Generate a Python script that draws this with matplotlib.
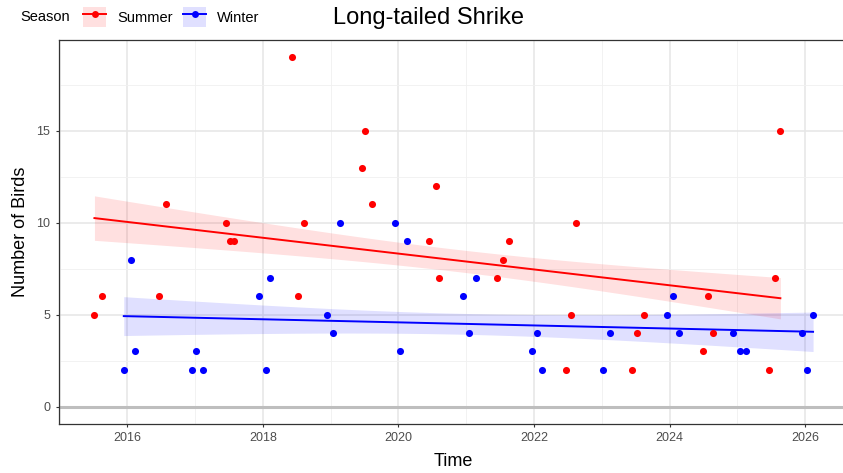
import numpy as np
import pandas as pd
import matplotlib
matplotlib.use('Agg')
import matplotlib.pyplot as plt
from matplotlib.patches import Patch
from matplotlib.lines import Line2D
from matplotlib.ticker import MultipleLocator

plt.rcParams['font.family'] = ['Liberation Sans', 'DejaVu Sans']

# Survey dates and counts
summer_dates = ['2015-07-08', '2015-08-16', '2016-06-18', '2016-07-29', '2017-06-17',
                '2017-07-06', '2017-07-31', '2018-06-08', '2018-07-07', '2018-08-12',
                '2019-06-18', '2019-07-07', '2019-08-12', '2020-06-16', '2020-07-20',
                '2020-08-07', '2021-06-14', '2021-07-20', '2021-08-18', '2022-06-20',
                '2022-07-19', '2022-08-15', '2023-06-12', '2023-07-10', '2023-08-14',
                '2024-06-28', '2024-07-27', '2024-08-22', '2025-06-19', '2025-07-21',
                '2025-08-21']
summer_counts = [5, 6, 6, 11, 10, 9, 9, 19, 6, 10, 13, 15, 11, 9, 12, 7, 7, 8, 9,
                 2, 5, 10, 2, 4, 5, 3, 6, 4, 2, 7, 15]

winter_dates = ['2015-12-13', '2016-01-22', '2016-02-14', '2016-12-16', '2017-01-08',
                '2017-02-13', '2017-12-12', '2018-01-16', '2018-02-07', '2018-12-14',
                '2019-01-15', '2019-02-18', '2019-12-14', '2020-01-10', '2020-02-19',
                '2020-12-16', '2021-01-18', '2021-02-22', '2021-12-21', '2022-01-19',
                '2022-02-14', '2023-01-09', '2023-02-14', '2023-12-17', '2024-01-21',
                '2024-02-21', '2024-12-09', '2025-01-16', '2025-02-19', '2025-12-15',
                '2026-01-14', '2026-02-13']
winter_counts = [2, 8, 3, 2, 3, 2, 6, 2, 7, 5, 4, 10, 10, 3, 9, 6, 4, 7, 3, 4, 2,
                 2, 4, 5, 6, 4, 4, 3, 3, 4, 2, 5]

season_names = ['Summer', 'Winter']
season_colors = ['red', 'blue']
# how many standard errors the shaded band spans (matched to the picture)
band_mult = [0.85, 1.35]


def decimal_year(dates):
    d = pd.to_datetime(pd.Series(dates))
    start = pd.to_datetime(d.dt.year.astype(str) + '-01-01')
    ylen = np.where(d.dt.is_leap_year, 366, 365)
    return (d.dt.year + (d - start).dt.days / ylen).to_numpy()


def lm_band(x, y, t):
    # linear fit with a standard-error band (like geom_smooth(method='lm'))
    b, a = np.polyfit(x, y, 1)
    xs = np.linspace(x.min(), x.max(), 80)
    fit = a + b * xs
    resid = y - (a + b * x)
    s = np.sqrt(np.sum(resid ** 2) / (len(x) - 2))
    se = s * np.sqrt(1 / len(x) + (xs - x.mean()) ** 2 / np.sum((x - x.mean()) ** 2))
    return xs, fit, fit - t * se, fit + t * se


series = []
for dates, counts in [(summer_dates, summer_counts), (winter_dates, winter_counts)]:
    series.append((decimal_year(dates), np.array(counts, dtype=float)))
xs_all = np.concatenate([s[0] for s in series])
ys_all = np.concatenate([s[1] for s in series])

fig = plt.figure(figsize=(8.43, 4.73), dpi=100)
ax = fig.add_axes([58.5 / 843, 1 - 424 / 473, (849 - 58.5) / 843, (424 - 40) / 473])

ax.axhline(0, color='#BEBEBE', lw=2.2, zorder=1)

for (x, y), col, t in zip(series, season_colors, band_mult):
    xs, fit, lo, hi = lm_band(x, y, t)
    ax.fill_between(xs, lo, hi, color=col, alpha=0.12, lw=0, zorder=2)
    ax.plot(xs, fit, color=col, lw=1.4, zorder=3)
    ax.scatter(x, y, s=26, color=col, linewidths=0, zorder=4)

# ggplot-like 5% expansion
xr = xs_all.max() - xs_all.min()
yr = ys_all.max() - 0
ax.set_xlim(xs_all.min() - 0.05 * xr, xs_all.max() + 0.05 * xr)
ax.set_ylim(0 - 0.05 * yr, ys_all.max() + 0.05 * yr)

ax.xaxis.set_major_locator(MultipleLocator(2))
ax.xaxis.set_minor_locator(MultipleLocator(1))
ax.yaxis.set_major_locator(MultipleLocator(5))
ax.yaxis.set_minor_locator(MultipleLocator(2.5))
ax.grid(which='major', color='#E6E6E6', lw=1.1, zorder=0)
ax.grid(which='minor', color='#F0F0F0', lw=0.6, zorder=0)
ax.set_axisbelow(True)
for sp in ax.spines.values():
    sp.set_color('#333333')
    sp.set_linewidth(0.9)
ax.tick_params(which='major', length=2.5, width=0.8, color='#333333',
               labelcolor='#4D4D4D', labelsize=9)
ax.tick_params(which='minor', length=0)

ax.set_xlabel('Time', fontsize=13, labelpad=6)
ax.set_ylabel('Number of Birds', fontsize=13, labelpad=5)
fig.text(0.508, 1 - 18 / 473, 'Long-tailed Shrike', ha='center', va='center', fontsize=17)

# legend above the panel, title on the left
fig.text(20 / 843, 1 - 17 / 473, 'Season', ha='left', va='center', fontsize=10.5)
handles = [(Patch(facecolor=c, alpha=0.12, lw=0),
            Line2D([], [], color=c, lw=1.4, marker='o', markersize=5, markeredgewidth=0))
           for c in season_colors]
fig.legend(handles, season_names, loc='center left', ncol=2, frameon=False,
           bbox_to_anchor=(83 / 843, 1 - 17 / 473), borderpad=0, borderaxespad=0,
           fontsize=10.5, handlelength=1.6, handleheight=1.7, handletextpad=0.75,
           columnspacing=0.7)

fig.savefig('out.png', dpi=100)
